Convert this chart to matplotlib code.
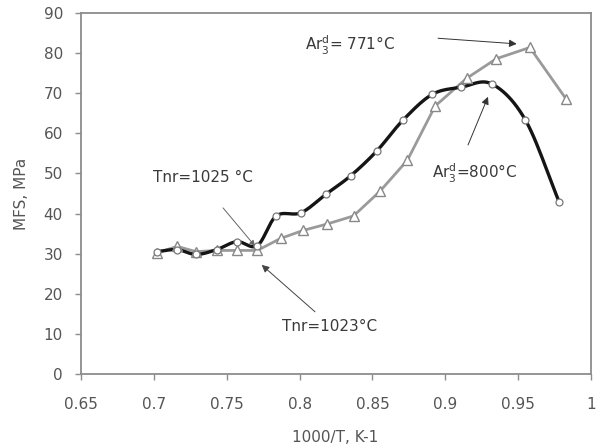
import numpy as np
import matplotlib
matplotlib.use("Agg")
import matplotlib.pyplot as plt

plt.rcParams['font.family'] = ['DejaVu Sans']
plt.rcParams['mathtext.default'] = 'regular'

# Data
x_circ = [0.702, 0.716, 0.729, 0.743, 0.757, 0.771, 0.784, 0.801, 0.818, 0.835,
          0.853, 0.871, 0.891, 0.911, 0.932, 0.955, 0.978]
y_circ = [30.5, 31.0, 29.8, 31.0, 33.0, 32.0, 39.4, 40.2, 44.8, 49.4,
          55.6, 63.3, 69.7, 71.5, 72.3, 63.3, 43.0]

x_tri = [0.702, 0.716, 0.729, 0.743, 0.757, 0.771, 0.787, 0.8025, 0.819, 0.837,
         0.855, 0.874, 0.893, 0.9146, 0.935, 0.958, 0.983]
y_tri = [30.2, 31.8, 30.5, 30.8, 30.8, 30.8, 33.8, 35.8, 37.4, 39.4,
         45.5, 53.3, 66.8, 73.7, 78.6, 81.4, 68.5]

x_ticks = [0.65, 0.7, 0.75, 0.8, 0.85, 0.9, 0.95, 1.0]
x_ticklabels = ['0.65', '0.7', '0.75', '0.8', '0.85', '0.9', '0.95', '1']
y_ticks = [0, 10, 20, 30, 40, 50, 60, 70, 80, 90]


def smooth(x, y, n=12):
    """Catmull-Rom curve through the given points (like Excel smoothed line)."""
    x = np.asarray(x, float)
    y = np.asarray(y, float)
    px = np.concatenate([[2 * x[0] - x[1]], x, [2 * x[-1] - x[-2]]])
    py = np.concatenate([[2 * y[0] - y[1]], y, [2 * y[-1] - y[-2]]])
    xs, ys = [], []
    t = np.linspace(0, 1, n, endpoint=False)
    for i in range(1, len(px) - 2):
        for arr, out in ((px, xs), (py, ys)):
            a0, a1, a2, a3 = arr[i - 1:i + 3]
            out.extend(0.5 * ((2 * a1) + (-a0 + a2) * t
                              + (2 * a0 - 5 * a1 + 4 * a2 - a3) * t ** 2
                              + (-a0 + 3 * a1 - 3 * a2 + a3) * t ** 3))
    xs.append(x[-1])
    ys.append(y[-1])
    return np.array(xs), np.array(ys)


fig = plt.figure(figsize=(6.05, 4.48), dpi=100)
ax = fig.add_axes([0.1339, 0.1652, 0.9769 - 0.1339, 0.971 - 0.1652])

ax.plot(x_tri, y_tri, color='#9a9a9a', lw=2.0, zorder=2)
ax.plot(x_tri, y_tri, ls='none', marker='^', ms=7.5, mfc='white',
        mec='#888888', mew=1.0, zorder=4)

bx, by = smooth(x_circ, y_circ)
ax.plot(bx, by, color='#151515', lw=2.4, zorder=3)
ax.plot(x_circ, y_circ, ls='none', marker='o', ms=5, mfc='white',
        mec='#777777', mew=0.9, zorder=5)

ax.set_xlim(0.65, 1.0)
ax.set_ylim(0, 90)
ax.set_xticks(x_ticks)
ax.set_xticklabels(x_ticklabels)
ax.set_yticks(y_ticks)

gray = '#8c8c8c'
for s in ax.spines.values():
    s.set_color(gray)
    s.set_linewidth(1.3)
ax.tick_params(direction='out', length=4.5, width=1.0, color=gray,
               labelcolor='#555555', labelsize=11)
ax.tick_params(axis='x', pad=12)
ax.tick_params(axis='y', pad=8.5)

fig.text(22 / 605, 1 - 194 / 448, 'MFS, MPa', rotation=90, fontsize=11,
         color='#555555', ha='center', va='center')
fig.text(335 / 605, 1 - 437 / 448, '1000/T, K-1', fontsize=11,
         color='#555555', ha='center', va='center')

tc = '#3a3a3a'
ax.text(0.7334, 48.9, 'Tnr=1025 °C', fontsize=11, color=tc, ha='center', va='center')
ax.annotate('', xy=(0.7694, 31.9), xytext=(0.7475, 41.4),
            arrowprops=dict(arrowstyle='-|>', color='#666666', lw=0.7,
                            mutation_scale=8, shrinkA=0, shrinkB=0))

ax.text(0.8209, 11.8, 'Tnr=1023°C', fontsize=11, color=tc, ha='center', va='center')
ax.annotate('', xy=(0.7740, 27.2), xytext=(0.8106, 15.5),
            arrowprops=dict(arrowstyle='-|>', color='#444444', lw=0.7,
                            mutation_scale=11, shrinkA=0, shrinkB=0))

ax.text(0.8346, 81.8, 'Ar$_3^d$= 771°C', fontsize=11, color=tc, ha='center', va='center')
ax.annotate('', xy=(0.9490, 82.3), xytext=(0.8950, 83.7),
            arrowprops=dict(arrowstyle='-|>', color='#333333', lw=0.7,
                            mutation_scale=11, shrinkA=0, shrinkB=0))

ax.text(0.9202, 49.9, 'Ar$_3^d$=800°C', fontsize=11, color=tc, ha='center', va='center')
ax.annotate('', xy=(0.9293, 69.1), xytext=(0.9156, 57.1),
            arrowprops=dict(arrowstyle='-|>', color='#333333', lw=0.7,
                            mutation_scale=11, shrinkA=0, shrinkB=0))

fig.savefig('out.png', dpi=100)
